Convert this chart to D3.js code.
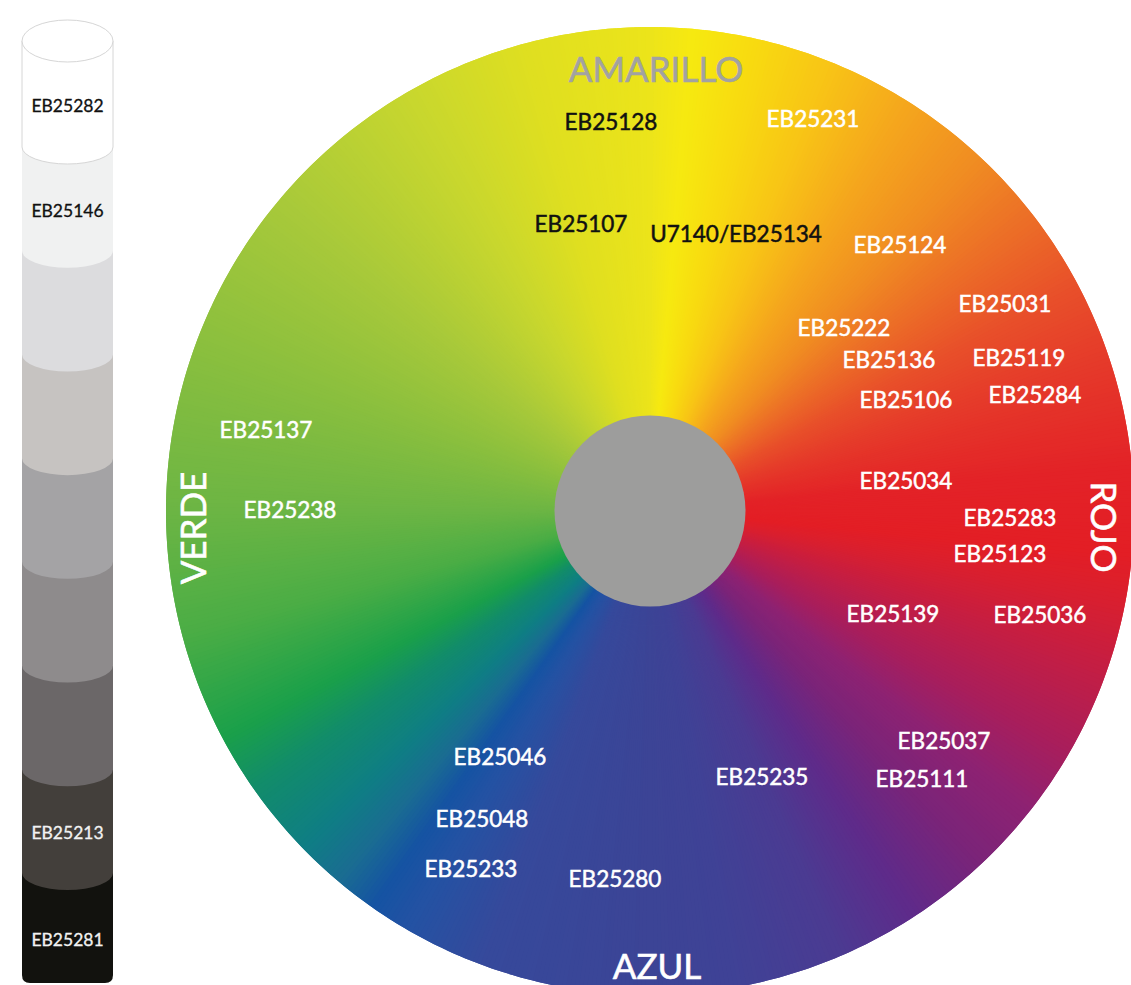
<!DOCTYPE html>
<html>
<head>
<meta charset="utf-8">
<script src="https://cdn.jsdelivr.net/npm/d3@7"></script>
<style>
  html, body { margin: 0; padding: 0; background: #fff; }
  svg { display: block; }
  text { font-family: "Lato", "Open Sans", sans-serif; }
</style>
</head>
<body>
<svg id="chart"></svg>
<script>
// grey scale column (top to bottom)
const grayColors = ["#ffffff", "#f0f1f1", "#dcdcde", "#c6c3c1", "#a4a3a5", "#8e8b8c", "#6b6768", "#433f3b", "#12120e"];
const grayLabels = ["EB25282", "EB25146", "", "", "", "", "", "EB25213", "EB25281"];

// colour wheel: hue stops, degrees clockwise from the top
const hueAngles = [0, 5, 12, 22, 32, 43, 52, 62, 72, 85, 95, 100, 110, 120, 128, 137, 147, 157, 170, 180, 200, 210, 215, 220, 226, 235, 242, 255, 270, 290, 310, 330, 345, 360];
const hueColors = ["#ece41a", "#f6e910", "#f8dc10", "#f8c416", "#f5a71d", "#f08c22", "#ec6f27", "#e8502a", "#e5392a", "#e32227", "#e31e25", "#db1f2d", "#c21e45", "#a81e5c", "#8e2272", "#7a2479", "#5e2b8a", "#4b3b92", "#3f4296", "#3c4496", "#36499b", "#2452a3", "#1553a3", "#1a6c92", "#0f7e84", "#128c6a", "#1aa04a", "#4aad45", "#6cb544", "#8abf3e", "#a8c93a", "#c8d72e", "#dfdf20", "#ece41a"];

// main colour names
const axisNames = ["AMARILLO", "ROJO", "AZUL", "VERDE"];
const axisPos = [[656, 82, 0], [1104, 527, 90], [657, 979, 0], [193, 528, -90]];
const axisFill = ["#a2a2a2", "#fff", "#fff", "#fff"];

// colour codes on the wheel: [code, centre x, baseline y]
const codeNames = ["EB25128", "EB25231", "EB25107", "U7140/EB25134", "EB25124", "EB25031", "EB25222", "EB25136", "EB25119", "EB25106", "EB25284", "EB25034", "EB25283", "EB25123", "EB25139", "EB25036", "EB25037", "EB25235", "EB25111", "EB25046", "EB25048", "EB25233", "EB25280", "EB25137", "EB25238"];
const codeX = [611, 813, 581, 736, 900, 1005, 844, 889, 1019, 906, 1035, 906, 1010, 1000, 893, 1040, 944, 762, 922, 500, 482, 471, 615, 266, 290];
const codeY = [130, 127, 232, 242, 253, 312, 336, 368, 366, 408, 403, 489, 526, 562, 622, 623, 749, 785, 787, 765, 827, 877, 887, 438, 518];
const darkCodes = ["EB25128", "EB25107", "U7140/EB25134"];

const width = 1131, height = 985;

const svg = d3.select("#chart")
  .attr("width", width)
  .attr("height", height);

// ---- colour wheel ----
const wheel = {cx: 650, cy: 511, r: 484, hole: 95.5};

const hue = d3.scaleLinear()
  .domain(hueAngles)
  .range(hueColors)
  .interpolate(d3.interpolateRgb);

const step = 0.5;
const steps = d3.range(0, 360, step);
const toRad = d3.scaleLinear().domain([0, 360]).range([0, 2 * Math.PI]);

const arc = d3.arc()
  .innerRadius(wheel.hole - 2)
  .outerRadius(wheel.r);

const g = svg.append("g")
  .attr("transform", `translate(${wheel.cx},${wheel.cy})`);

// thin wedges, each a little wider than the step so no seams show
g.selectAll("path.wedge")
  .data(steps)
  .join("path")
    .attr("class", "wedge")
    .attr("d", a => arc({startAngle: toRad(a), endAngle: toRad(a + step * 2)}))
    .attr("fill", a => hue(a + step / 2));

g.append("circle")
  .attr("r", wheel.hole)
  .attr("fill", "#9d9d9c");

// code labels
svg.append("g")
  .selectAll("text")
  .data(codeNames)
  .join("text")
    .attr("x", (d, i) => codeX[i])
    .attr("y", (d, i) => codeY[i])
    .attr("text-anchor", "middle")
    .attr("font-size", 22.5)
    .attr("fill", d => darkCodes.includes(d) ? "#111" : "#fff")
    .attr("stroke", d => darkCodes.includes(d) ? "#111" : "#fff")
    .attr("stroke-width", 0.5)
    .text(d => d);

// big colour names
svg.append("g")
  .selectAll("text")
  .data(axisNames)
  .join("text")
    .attr("transform", (d, i) => `translate(${axisPos[i][0]},${axisPos[i][1]}) rotate(${axisPos[i][2]})`)
    .attr("dy", (d, i) => axisPos[i][2] ? "0.36em" : 0)
    .attr("text-anchor", "middle")
    .attr("font-size", 35)
    .attr("fill", (d, i) => axisFill[i])
    .attr("stroke", (d, i) => axisFill[i])
    .attr("stroke-width", 0.6)
    .text(d => d);

// ---- grey cylinder ----
const col = {x0: 22, x1: 113, ry: 17, topRy: 21, bottom: 983, corner: 8};
const rx = (col.x1 - col.x0) / 2;
const cyl = d3.scaleLinear().domain([1, 8]).range([147, 873]);
const segTop = i => i === 0 ? 41 : cyl(i);
const segBot = i => i === grayColors.length - 1 ? col.bottom : cyl(i + 1);

function segPath(i) {
  const t = segTop(i), b = segBot(i);
  if (i === grayColors.length - 1) {
    const c = col.corner;
    return `M${col.x0},${t}L${col.x0},${b - c}Q${col.x0},${b} ${col.x0 + c},${b}` +
      `L${col.x1 - c},${b}Q${col.x1},${b} ${col.x1},${b - c}L${col.x1},${t}Z`;
  }
  return `M${col.x0},${t}L${col.x0},${b}A${rx},${col.ry} 0 0 0 ${col.x1},${b}L${col.x1},${t}Z`;
}

const cg = svg.append("g");
const order = d3.range(grayColors.length).reverse();

cg.selectAll("path.seg")
  .data(order)
  .join("path")
    .attr("class", "seg")
    .attr("d", segPath)
    .attr("fill", i => grayColors[i])
    .attr("stroke", i => i === 0 ? "#d6d6d6" : "none")
    .attr("stroke-width", 1);

cg.append("ellipse")
  .attr("cx", (col.x0 + col.x1) / 2)
  .attr("cy", segTop(0))
  .attr("rx", rx)
  .attr("ry", col.topRy)
  .attr("fill", "#fff")
  .attr("stroke", "#d6d6d6")
  .attr("stroke-width", 1);

cg.selectAll("text")
  .data(grayLabels)
  .join("text")
    .attr("x", (col.x0 + col.x1) / 2)
    .attr("y", (d, i) => (segTop(i) + segBot(i)) / 2 + 18)
    .attr("text-anchor", "middle")
    .attr("font-size", 17.5)
    .attr("fill", (d, i) => i > 5 ? "#f2f2f2" : "#111")
    .attr("stroke", (d, i) => i > 5 ? "#f2f2f2" : "#111")
    .attr("stroke-width", 0.3)
    .text(d => d);
</script>
</body>
</html>
